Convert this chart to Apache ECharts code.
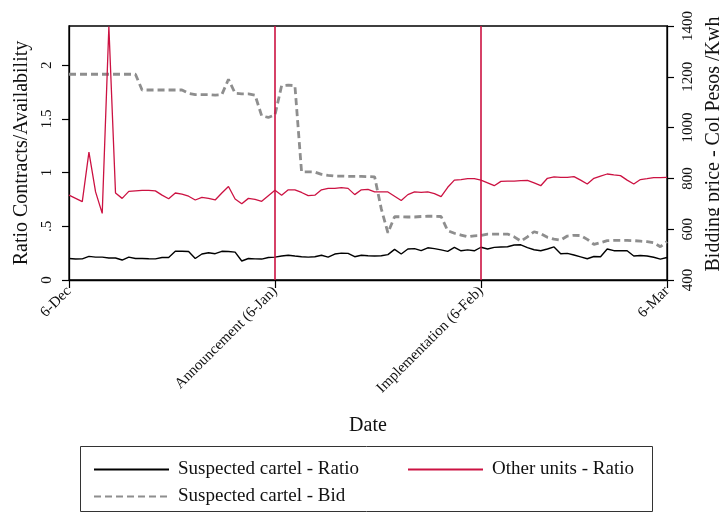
<!DOCTYPE html>
<html>
<head>
<meta charset="utf-8">
<script src="https://cdn.jsdelivr.net/npm/echarts@6/dist/echarts.min.js"></script>
<style>
  html, body { margin: 0; padding: 0; background: #ffffff; }
  #chart { width: 719px; height: 514px; }
</style>
</head>
<body>
<div id="chart"></div>
<script>
// Daily observations from 6-Dec to 6-Mar
const monthNames = ['Dec', 'Jan', 'Feb', 'Mar'];
const monthLengths = [31, 31, 28, 31];
const categories = [];
(function () {
  let m = 0, d = 6;
  for (let i = 0; i < 91; i++) {
    categories.push(d + '-' + monthNames[m]);
    d++;
    if (d > monthLengths[m]) { d = 1; m++; }
  }
})();

// Labelled dates on the x axis
const tickDays = ['6-Dec', '6-Jan', '6-Feb', '6-Mar'];
const tickText = ['6-Dec', 'Announcement (6-Jan)', 'Implementation (6-Feb)', '6-Mar'];
// Announcement and implementation dates
const eventDays = ['6-Jan', '6-Feb'];

// Left axis ticks
const ratioTicks = [0, 0.5, 1, 1.5, 2];
const ratioMax = 2.365;

// Suspected cartel - Ratio
const cartelRatio = [
  0.200, 0.195, 0.197, 0.220, 0.213, 0.213, 0.205, 0.205, 0.186, 0.213,
  0.200, 0.200, 0.198, 0.197, 0.210, 0.210, 0.267, 0.267, 0.265, 0.200,
  0.242, 0.254, 0.245, 0.267, 0.265, 0.260, 0.177, 0.200, 0.197, 0.195,
  0.210, 0.213, 0.223, 0.230, 0.223, 0.217, 0.213, 0.216, 0.230, 0.213,
  0.242, 0.250, 0.248, 0.217, 0.230, 0.226, 0.223, 0.226, 0.236, 0.285,
  0.242, 0.289, 0.292, 0.273, 0.300, 0.292, 0.280, 0.267, 0.304, 0.272,
  0.281, 0.272, 0.305, 0.289, 0.304, 0.307, 0.310, 0.326, 0.328, 0.302,
  0.282, 0.272, 0.289, 0.308, 0.245, 0.248, 0.233, 0.216, 0.198, 0.219,
  0.216, 0.289, 0.273, 0.273, 0.272, 0.223, 0.228, 0.224, 0.212, 0.195,
  0.210
];

// Other units - Ratio
const otherRatio = [
  0.790, 0.760, 0.730, 1.190, 0.820, 0.620, 2.360, 0.810, 0.760, 0.825,
  0.830, 0.835, 0.835, 0.830, 0.790, 0.757, 0.810, 0.800, 0.780, 0.745,
  0.770, 0.760, 0.745, 0.810, 0.870, 0.754, 0.710, 0.760, 0.750, 0.733,
  0.785, 0.835, 0.790, 0.840, 0.840, 0.815, 0.785, 0.790, 0.840, 0.853,
  0.853, 0.860, 0.853, 0.795, 0.840, 0.843, 0.820, 0.820, 0.820, 0.780,
  0.740, 0.795, 0.820, 0.815, 0.820, 0.805, 0.776, 0.863, 0.930, 0.935,
  0.943, 0.943, 0.930, 0.905, 0.878, 0.918, 0.920, 0.920, 0.925, 0.928,
  0.905, 0.878, 0.947, 0.960, 0.956, 0.956, 0.962, 0.930, 0.894, 0.947,
  0.968, 0.987, 0.978, 0.972, 0.930, 0.894, 0.935, 0.943, 0.953, 0.953,
  0.956
];

// Suspected cartel - Bid (Col Pesos / Kwh)
const cartelBid = [
  1210, 1210, 1210, 1210, 1210, 1210, 1210, 1210, 1210, 1210,
  1210, 1148, 1148, 1148, 1148, 1148, 1148, 1148, 1135, 1130,
  1130, 1130, 1128, 1130, 1190, 1135, 1133, 1133, 1128, 1046,
  1040, 1050, 1165, 1167, 1165, 826, 826, 825, 816, 812,
  809, 809, 808, 808, 808, 807, 806, 680, 586, 649,
  649, 648, 648, 650, 651, 651, 650, 594, 584, 577,
  570, 574, 575, 581, 581, 581, 581, 570, 553, 570,
  590, 582, 568, 561, 557, 573, 576, 575, 560, 540,
  547, 555, 556, 556, 556, 555, 553, 551, 547, 531,
  551
];

const FONT = '"Liberation Serif", "DejaVu Serif", serif';
const RED = '#cc1242';
const GREY = '#8e8e8e';

const chart = echarts.init(document.getElementById('chart'), null, { renderer: 'canvas' });

const legendText = { fontFamily: FONT, fontSize: 19, color: '#111', padding: [0, 0, 0, 4] };
const legendBase = {
  itemWidth: 75, itemHeight: 14,
  itemStyle: { opacity: 0 },
  textStyle: legendText
};

chart.setOption({
  animation: false,
  backgroundColor: '#ffffff',
  grid: {
    left: 69, right: 52, top: 26, bottom: 234,
    show: true, borderColor: '#000', borderWidth: 1.3,
    outerBoundsMode: 'none'
  },
  legend: [
    Object.assign({ data: ['Suspected cartel - Ratio'], left: 88, top: 455 }, legendBase),
    Object.assign({ data: ['Other units - Ratio'], left: 402, top: 455 }, legendBase),
    Object.assign({ data: ['Suspected cartel - Bid'], left: 88, top: 482 }, legendBase)
  ],
  graphic: [{
    type: 'rect',
    shape: { x: 80.5, y: 446.5, width: 572, height: 65 },
    style: { fill: 'none', stroke: '#333', lineWidth: 1 },
    silent: true
  }],
  xAxis: {
    type: 'category',
    data: categories,
    boundaryGap: false,
    name: 'Date',
    nameLocation: 'middle',
    nameGap: 136,
    nameTextStyle: { fontFamily: FONT, fontSize: 20, color: '#111' },
    axisLine: { lineStyle: { color: '#000', width: 1.3 } },
    axisTick: {
      length: 8,
      interval: (i, v) => tickDays.indexOf(v) >= 0,
      lineStyle: { color: '#000', width: 1.2 }
    },
    axisLabel: {
      interval: (i, v) => tickDays.indexOf(v) >= 0,
      rotate: 45,
      margin: 9,
      fontFamily: FONT, fontSize: 15, color: '#111',
      formatter: v => tickText[tickDays.indexOf(v)]
    },
    splitLine: { show: false }
  },
  yAxis: [
    {
      type: 'value',
      position: 'left',
      min: 0, max: ratioMax,
      interval: 0.5,
      name: 'Ratio Contracts/Availability',
      nameLocation: 'middle',
      nameRotate: 90,
      nameGap: 32,
      nameTextStyle: { fontFamily: FONT, fontSize: 20, color: '#111' },
      axisLine: { show: true, lineStyle: { color: '#000', width: 1.3 } },
      axisTick: { show: true, length: 7, customValues: ratioTicks, lineStyle: { color: '#000', width: 1.2 } },
      axisLabel: {
        customValues: ratioTicks,
        rotate: 90, margin: 14,
        fontFamily: FONT, fontSize: 15, color: '#111',
        formatter: v => (v === 0 ? '0' : String(v).replace(/^0\./, '.'))
      },
      splitLine: { show: false }
    },
    {
      type: 'value',
      position: 'right',
      min: 400, max: 1400, interval: 200,
      name: 'Bidding price - Col Pesos /Kwh',
      nameLocation: 'middle',
      nameRotate: 90,
      nameGap: 29,
      nameTextStyle: { fontFamily: FONT, fontSize: 20, color: '#111', padding: [0, 0, 0, 18] },
      axisLine: { show: true, lineStyle: { color: '#000', width: 1.3 } },
      axisTick: { show: true, length: 7, lineStyle: { color: '#000', width: 1.2 } },
      axisLabel: {
        rotate: 90, margin: 14,
        fontFamily: FONT, fontSize: 15, color: '#111',
        formatter: v => String(v)
      },
      splitLine: { show: false }
    }
  ],
  series: [
    {
      name: 'Suspected cartel - Bid',
      type: 'line',
      yAxisIndex: 1,
      data: cartelBid,
      symbol: 'none',
      lineStyle: { color: GREY, width: 2.8, type: [7, 4] },
      itemStyle: { color: GREY },
      z: 2
    },
    {
      name: 'Other units - Ratio',
      type: 'line',
      yAxisIndex: 0,
      data: otherRatio,
      symbol: 'none',
      lineStyle: { color: RED, width: 1.3 },
      itemStyle: { color: RED },
      z: 3,
      markLine: {
        silent: true,
        symbol: 'none',
        label: { show: false },
        lineStyle: { color: RED, width: 1.6, type: 'solid' },
        data: eventDays.map(d => ({ xAxis: d }))
      }
    },
    {
      name: 'Suspected cartel - Ratio',
      type: 'line',
      yAxisIndex: 0,
      data: cartelRatio,
      symbol: 'none',
      lineStyle: { color: '#000', width: 1.4 },
      itemStyle: { color: '#000' },
      z: 4
    }
  ]
});
</script>
</body>
</html>
